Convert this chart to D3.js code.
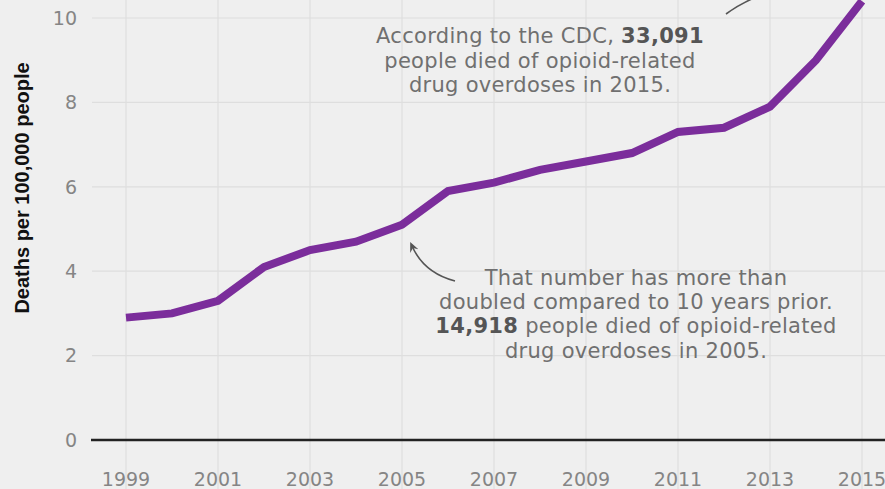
<!doctype html>
<html>
  <head>
    <script src="https://d3js.org/d3.v7.min.js"></script>
    <style>
      body { margin: 0; background: #efefef; }
      svg { display: block; }
    </style>
  </head>
  <body>
    <svg id="chart" width="885" height="489"></svg>
    <script>
      /* data, CDC opioid overdose death rate */
      var years = [1999, 2000, 2001, 2002, 2003, 2004, 2005, 2006, 2007, 2008, 2009, 2010, 2011, 2012, 2013, 2014, 2015];
      var rates = [2.9, 3.0, 3.3, 4.1, 4.5, 4.7, 5.1, 5.9, 6.1, 6.4, 6.6, 6.8, 7.3, 7.4, 7.9, 9.0, 10.4];
      var xTicks = [1999, 2001, 2003, 2005, 2007, 2009, 2011, 2013, 2015];
      var yTicks = [0, 2, 4, 6, 8, 10];
      var note2015 = [["According to the CDC, ", "33,091"], ["people died of opioid-related"], ["drug overdoses in 2015."]];
      var note2005 = [["That number has more than"], ["doubled compared to 10 years prior."], ["14,918", " people died of opioid-related"], ["drug overdoses in 2005."]];

      var svg = d3.select("#chart");
      var W = 885, H = 489;
      var font = "'DejaVu Sans', sans-serif";

      var x = d3.scaleLinear().domain([1999, 2015]).range([126, 862]);
      var y = d3.scaleLinear().domain([0, 10]).range([440, 18]);

      svg.append("rect").attr("width", W).attr("height", H).attr("fill", "#efefef");

      /* grid */
      svg.append("g").selectAll("line").data(xTicks).enter().append("line")
        .attr("x1", d => x(d)).attr("x2", d => x(d))
        .attr("y1", 0).attr("y2", H)
        .attr("stroke", "#dedede").attr("stroke-width", 1.2);

      svg.append("g").selectAll("line").data(yTicks.filter(d => d > 0)).enter().append("line")
        .attr("x1", 92).attr("x2", W)
        .attr("y1", d => y(d)).attr("y2", d => y(d))
        .attr("stroke", "#dedede").attr("stroke-width", 1.2);

      /* baseline */
      svg.append("line")
        .attr("x1", 91).attr("x2", W)
        .attr("y1", y(0)).attr("y2", y(0))
        .attr("stroke", "#222").attr("stroke-width", 2.5);

      /* tick labels */
      svg.append("g").selectAll("text").data(yTicks).enter().append("text")
        .attr("x", 77).attr("y", d => y(d)).attr("dy", "0.36em")
        .attr("text-anchor", "end")
        .style("font-family", font).style("font-size", "19px").style("fill", "#858585")
        .text(d => d);

      svg.append("g").selectAll("text").data(xTicks).enter().append("text")
        .attr("x", d => x(d)).attr("y", 486)
        .attr("text-anchor", "middle")
        .style("font-family", font).style("font-size", "19px").style("fill", "#858585")
        .text(d => d);

      /* y axis title */
      svg.append("text")
        .attr("transform", "translate(29,188) rotate(-90)")
        .attr("text-anchor", "middle")
        .style("font-family", "'Liberation Sans Narrow', 'Liberation Sans', sans-serif")
        .style("font-weight", "bold").style("font-size", "20px").style("fill", "#111")
        .text("Deaths per 100,000 people");

      /* the line */
      var line = d3.line().x((d, i) => x(years[i])).y(d => y(d));
      svg.append("path").datum(rates)
        .attr("d", line)
        .attr("fill", "none")
        .attr("stroke", "#7b2d9b")
        .attr("stroke-width", 8)
        .attr("stroke-linejoin", "miter");

      /* annotations */
      function note(lines, cx, y0, step) {
        var t = svg.append("text")
          .attr("text-anchor", "middle")
          .style("font-family", font).style("font-size", "21px")
          .style("letter-spacing", "0.3px").style("fill", "#707070");
        lines.forEach((parts, i) => {
          var tl = t.append("tspan").attr("x", cx).attr("y", y0 + i * step);
          parts.forEach(p => {
            var s = tl.append("tspan").text(p);
            if (/^[\d,]+$/.test(p)) s.style("font-weight", "bold").style("fill", "#555");
          });
        });
      }
      note(note2015, 540, 43, 24.7);
      note(note2005, 636, 285, 24.2);

      /* arrows */
      svg.append("defs").append("marker")
        .attr("id", "head").attr("viewBox", "0 0 10 10")
        .attr("refX", 5).attr("refY", 5)
        .attr("markerWidth", 7).attr("markerHeight", 7)
        .attr("orient", "auto-start-reverse")
        .append("path").attr("d", "M0,1 L9,5 L0,9 L3,5 Z").attr("fill", "#555");

      svg.append("path")
        .attr("d", "M455,281 Q424,273 412,246")
        .attr("fill", "none").attr("stroke", "#555").attr("stroke-width", 1.6)
        .attr("marker-end", "url(#head)");

      svg.append("path")
        .attr("d", "M726,14 Q738,5 754,-2")
        .attr("fill", "none").attr("stroke", "#555").attr("stroke-width", 1.6);
    </script>
  </body>
</html>
